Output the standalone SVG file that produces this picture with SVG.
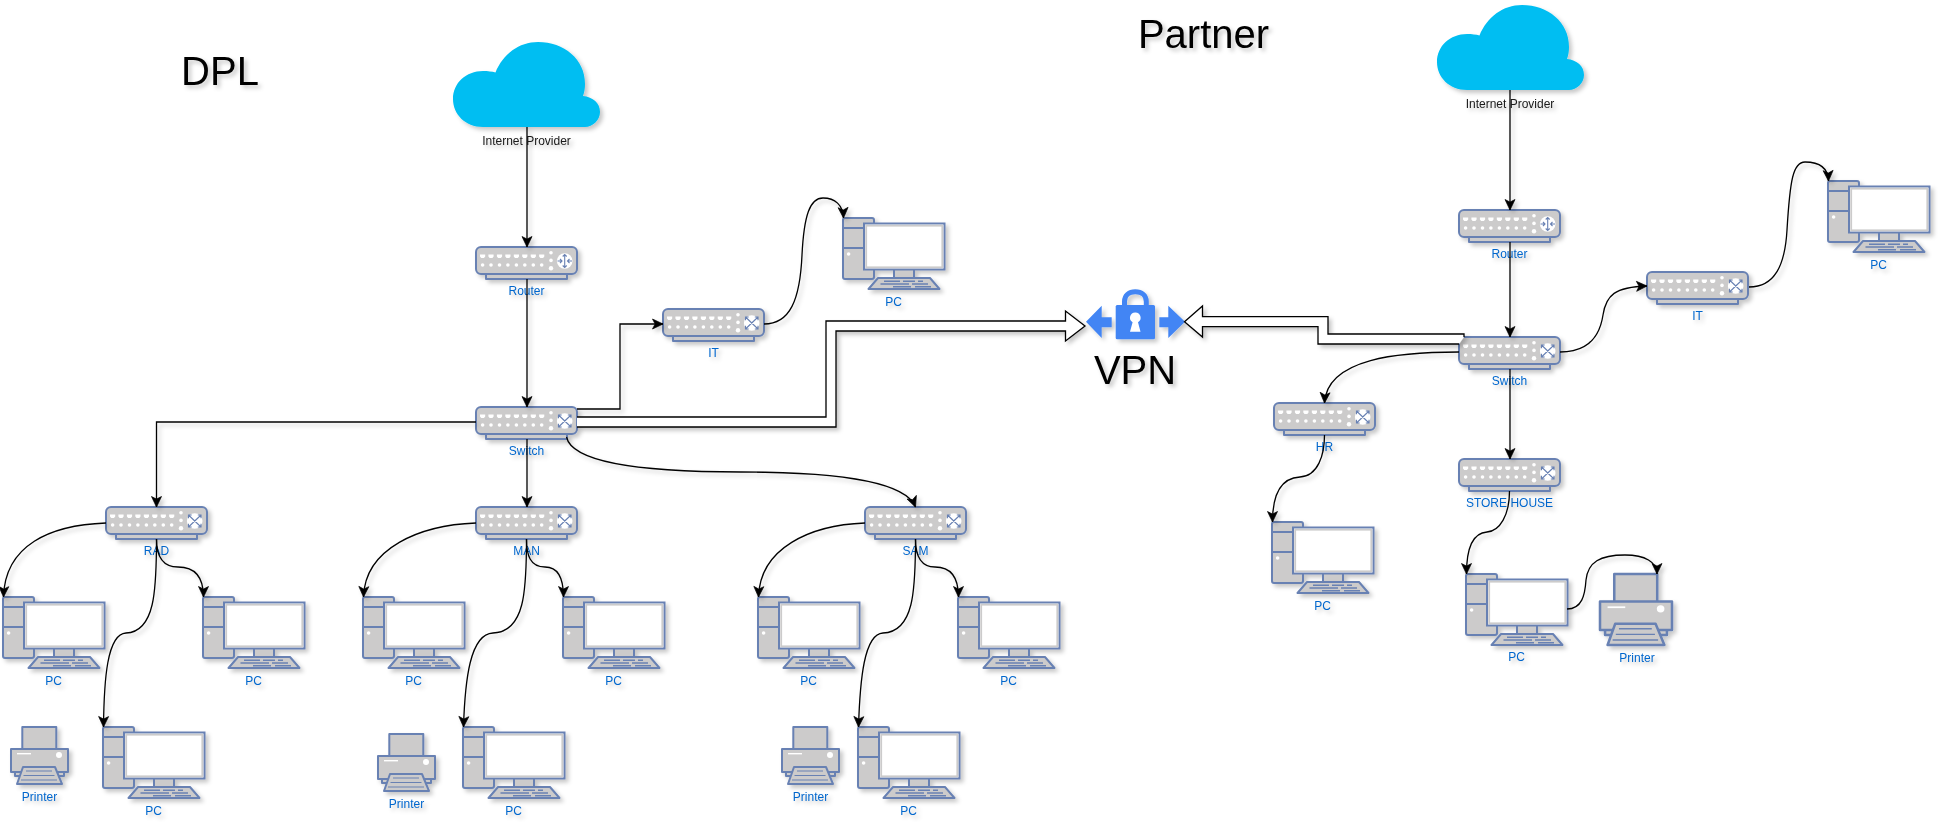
<svg xmlns="http://www.w3.org/2000/svg" xmlns:xlink="http://www.w3.org/1999/xlink" width="1939" height="830" viewBox="0 0 1939 830">
<style>
text{font-family:"Liberation Sans",Arial,sans-serif;text-anchor:middle}
.lbl{font-size:12px;fill:#0066CC}
.dark{font-size:12px;fill:#1a1a1a}
.big{font-size:40px;fill:#000}
.s{fill:#CCCBCB;stroke:#6881B3;stroke-width:2;stroke-linejoin:round}
.w{fill:#fff}
.k{fill:none;stroke:#6881B3;stroke-width:2}
.a{fill:none;stroke:#6881B3;stroke-width:1.1}
.c{fill:none;stroke:#000;stroke-width:1.3;marker-end:url(#head)}
.f{fill:#fff;stroke:#000;stroke-width:1.3}
.cloud{fill:#00BEF2}
.vpn{fill:#4285F4}
.sh{filter:url(#shadow)}
</style>
<defs>
<filter id="shadow" x="-5%" y="-5%" width="110%" height="110%" filterUnits="objectBoundingBox">
<feDropShadow dx="3" dy="3" stdDeviation="1.9" flood-color="#000" flood-opacity="0.22"/>
</filter>
<marker id="head" markerUnits="userSpaceOnUse" markerWidth="13" markerHeight="13" viewBox="0 0 13 13" refX="11.5" refY="6.5" orient="auto">
<path d="M1,1.5 L11.5,6.5 L1,11.5 L3.6,6.5 Z" fill="#000" stroke="#000" stroke-width=".7"/>
</marker>
<g id="chassis">
<rect class="s" x="10" y="27" width="81" height="5"/>
<rect class="s" x="0" y="0" width="101" height="27" rx="5"/>
<path class="w" d="M4,7.5h5.2v2l-1.2,1.4h-2.8l-1.2,-1.4zM12.4,7.5h5.2v2l-1.2,1.4h-2.8l-1.2,-1.4zM20.9,7.5h5.2v2l-1.2,1.4h-2.8l-1.2,-1.4zM29.3,7.5h5.2v2l-1.2,1.4h-2.8l-1.2,-1.4zM37.8,7.5h5.2v2l-1.2,1.4h-2.8l-1.2,-1.4zM46.2,7.5h5.2v2l-1.2,1.4h-2.8l-1.2,-1.4zM54.7,7.5h5.2v2l-1.2,1.4h-2.8l-1.2,-1.4zM63.1,7.5h5.2v2l-1.2,1.4h-2.8l-1.2,-1.4z"/>
<g class="w"><circle cx="6.6" cy="18" r="1.8"/><circle cx="15" cy="18" r="1.8"/><circle cx="23.5" cy="18" r="1.8"/><circle cx="31.9" cy="18" r="1.8"/><circle cx="40.4" cy="18" r="1.8"/><circle cx="48.8" cy="18" r="1.8"/><circle cx="57.3" cy="18" r="1.8"/><circle cx="65.7" cy="18" r="1.8"/><circle cx="75" cy="5.8" r="1.8"/><circle cx="75" cy="13.4" r="1.8"/><circle cx="75" cy="21.2" r="2.2"/><circle cx="88.7" cy="14" r="7.8"/></g>
</g>
<g id="switch">
<use href="#chassis"/>
<path class="a" d="M82.5,8 L95,20M95,8 L82.5,20M82.5,11.2V8H85.7M95,11.2V8H91.8M82.5,16.8V20H85.7M95,16.8V20H91.8"/>
</g>
<g id="router">
<use href="#chassis"/>
<path class="a" d="M88.7,7.5V20.5M86.7,9.5L88.7,7.5L90.7,9.5M86.7,18.5L88.7,20.5L90.7,18.5M81.5,14H86M84,12L86,14L84,16M96,14H91.5M93.5,12L91.5,14L93.5,16"/>
</g>
<g id="pc">
<rect class="s" x="0" y="0" width="31" height="61" rx="2"/>
<path class="k" d="M0,10H21M0,30H21"/>
<circle class="w" cx="5.6" cy="36" r="1.8"/>
<rect class="s" x="51" y="50" width="20" height="11"/>
<path class="s" d="M35,60H87L96.5,71H25.5Z"/>
<rect x="21" y="5.5" width="80.5" height="46" fill="#fff" stroke="#6881B3" stroke-width="2"/>
<rect x="23.2" y="7.7" width="76.1" height="41.6" fill="none" stroke="#CCCBCB" stroke-width="1.8"/>
<path d="M41,62.5H57V64H41ZM60,62.5H72V64H60ZM75,62.5H80V64H75ZM37.5,65.2H66V66.7H37.5ZM69,65.2H85V66.7H69ZM50,67.9H68V69.4H50ZM72,67.9H88V69.4H72Z" fill="#6881B3"/>
</g>
<g id="printer">
<rect class="s" x="11.3" y="0" width="34" height="23"/>
<rect class="s" x="4" y="44" width="49" height="5"/>
<rect class="s" x="0" y="22" width="57" height="23"/>
<path class="w" d="M6,26H20V27.4H6Z"/>
<circle class="w" cx="48" cy="28" r="3"/>
<path class="s" d="M12,40H44L51,57H6Z"/>
<path class="a" d="M15,44H41M12.5,48.5H43.5M10,53H46"/>
</g>
<path id="cloudshape" class="cloud" d="M30,85C12,85 0,72 0,57C0,41 13,29 30,29C35,29 39,29.5 42.5,30.5C50,12 66,0 85,0C111,0 132,17 132,42C132,46 131.5,50 130,54C140,55 147,61 147,70C147,78 140,85 132,85Z"/>
</defs>
<rect width="1939" height="830" fill="#fff"/>

<g id="titles" class="sh">
<text id="title-dpl" class="big" x="220" y="85">DPL</text>
<text id="title-partner" class="big" x="1203.5" y="48">Partner</text>
</g>

<g id="nodes" class="sh">
<g id="dpl-cloud"><use href="#cloudshape" x="453" y="42"/><text class="dark" x="526.5" y="145">Internet Provider</text></g>
<g id="dpl-router"><use href="#router" x="476" y="247"/><text class="lbl" x="526.5" y="295">Router</text></g>
<g id="dpl-switch"><use href="#switch" x="476" y="407"/><text class="lbl" x="526.5" y="455">Switch</text></g>
<g id="dpl-it"><use href="#switch" x="663" y="309"/><text class="lbl" x="713.5" y="357">IT</text></g>
<g id="dpl-it-pc"><use href="#pc" x="843" y="218"/><text class="lbl" x="893.5" y="306">PC</text></g>
<g id="rad"><use href="#switch" x="106" y="507"/><text class="lbl" x="156.5" y="555">RAD</text></g>
<g id="man"><use href="#switch" x="476" y="507"/><text class="lbl" x="526.5" y="555">MAN</text></g>
<g id="sam"><use href="#switch" x="865" y="507"/><text class="lbl" x="915.5" y="555">SAM</text></g>

<g id="rad-pc1"><use href="#pc" x="3" y="597"/><text class="lbl" x="53.5" y="685">PC</text></g>
<g id="rad-pc2"><use href="#pc" x="203" y="597"/><text class="lbl" x="253.5" y="685">PC</text></g>
<g id="rad-pc3"><use href="#pc" x="103" y="727"/><text class="lbl" x="153.5" y="815">PC</text></g>
<g id="rad-printer"><use href="#printer" x="11" y="727"/><text class="lbl" x="39.5" y="801">Printer</text></g>

<g id="man-pc1"><use href="#pc" x="363" y="597"/><text class="lbl" x="413.5" y="685">PC</text></g>
<g id="man-pc2"><use href="#pc" x="563" y="597"/><text class="lbl" x="613.5" y="685">PC</text></g>
<g id="man-pc3"><use href="#pc" x="463" y="727"/><text class="lbl" x="513.5" y="815">PC</text></g>
<g id="man-printer"><use href="#printer" x="378" y="734"/><text class="lbl" x="406.5" y="808">Printer</text></g>

<g id="sam-pc1"><use href="#pc" x="758" y="597"/><text class="lbl" x="808.5" y="685">PC</text></g>
<g id="sam-pc2"><use href="#pc" x="958" y="597"/><text class="lbl" x="1008.5" y="685">PC</text></g>
<g id="sam-pc3"><use href="#pc" x="858" y="727"/><text class="lbl" x="908.5" y="815">PC</text></g>
<g id="sam-printer"><use href="#printer" x="782" y="727"/><text class="lbl" x="810.5" y="801">Printer</text></g>

<g id="vpn">
<path class="vpn" d="M1086,321.7L1101.7,305.7V317.3H1111.7V327.3H1101.7V338Z"/>
<path class="vpn" d="M1185,321.7L1168.3,305.7V317.3H1159.3V327.3H1168.3V338Z"/>
<path d="M1124.5,306V301.5C1124.5,295.5 1129,291.8 1135.3,291.8C1141.6,291.8 1146.3,295.5 1146.3,301.5V306" fill="none" stroke="#4285F4" stroke-width="5"/>
<rect class="vpn" x="1115.7" y="305" width="39.3" height="34.3" rx="1.5"/>
<path class="w" d="M1135.3,312.5A5.2,5.2 0 0 1 1138,322.2L1140.5,331.7H1130L1132.6,322.2A5.2,5.2 0 0 1 1135.3,312.5Z"/>
<text class="big" x="1135" y="384">VPN</text>
</g>

<g id="partner-cloud"><use href="#cloudshape" x="1437" y="5"/><text class="dark" x="1510" y="108">Internet Provider</text></g>
<g id="partner-router"><use href="#router" x="1459" y="210"/><text class="lbl" x="1509.5" y="258">Router</text></g>
<g id="partner-switch"><use href="#switch" x="1459" y="337"/><text class="lbl" x="1509.5" y="385">Switch</text></g>
<g id="partner-it"><use href="#switch" x="1647" y="272"/><text class="lbl" x="1697.5" y="320">IT</text></g>
<g id="partner-it-pc"><use href="#pc" x="1828" y="181"/><text class="lbl" x="1878.5" y="269">PC</text></g>
<g id="hr"><use href="#switch" x="1274" y="403"/><text class="lbl" x="1324.5" y="451">HR</text></g>
<g id="hr-pc"><use href="#pc" x="1272" y="522"/><text class="lbl" x="1322.5" y="610">PC</text></g>
<g id="storehouse"><use href="#switch" x="1459" y="459"/><text class="lbl" x="1509.5" y="507">STORE HOUSE</text></g>
<g id="store-pc"><use href="#pc" x="1466" y="574"/><text class="lbl" x="1516.5" y="661">PC</text></g>
<g id="store-printer"><use href="#printer" transform="translate(1600 574) scale(1.263 1.245)"/><text class="lbl" x="1637" y="662">Printer</text></g>
</g>

<g id="connectors" class="sh">
<path class="c" d="M527,127V247"/>
<path class="c" d="M527,279V407"/>
<path class="c" d="M527,439V507"/>
<path class="c" d="M476,422H156.5V507"/>
<path class="c" d="M577,409H620V324H663"/>
<path class="c" d="M566.5,437C572,462 640,472 741,472C830,472 905,480 915.5,507"/>
<path class="c" d="M764,324C790,324 800,300 802,255C804,215 810,198 823,198C835,198 843,205 843.5,218"/>
<path class="c" d="M106,523C50,525 5,545 3.5,597"/>
<path class="c" d="M156.5,539C156.5,590 155,632 126,633C107,634 104,680 103.5,727"/>
<path class="c" d="M156.5,539C156.5,555 162,567 178,567C195,567 203.5,577 203.5,597"/>
<path class="c" d="M476,523C420,525 365,548 363.5,597"/>
<path class="c" d="M526.5,539C526.5,590 525,632 493,633C470,634 465,680 463.5,727"/>
<path class="c" d="M526.5,539C526.5,555 530,567 545,567C558,567 563.5,577 563.5,597"/>
<path class="c" d="M865,523C810,525 760,548 758.5,597"/>
<path class="c" d="M915.5,539C915.5,590 914,632 883,633C864,634 860,680 858.5,727"/>
<path class="c" d="M915.5,539C915.5,555 920,567 935,567C950,567 958.5,577 958.5,597"/>
<path class="f" d="M577,417H826V321H1065.5V311L1085,326L1065.5,341V331H836V427H577"/>
<path class="f" d="M1464,337V334H1328V316.7H1202.5V306L1184.5,321.7L1202.5,337V326.7H1318V344H1459"/>
<path class="c" d="M1510,90V210"/>
<path class="c" d="M1510,242V337"/>
<path class="c" d="M1510,369V459"/>
<path class="c" d="M1560,352C1590,352 1600,335 1603,315C1606,295 1615,287 1647,286"/>
<path class="c" d="M1749,287C1775,287 1785,265 1787,230C1790,180 1793,162 1805,162C1818,162 1828,167 1828.5,181"/>
<path class="c" d="M1459,352C1400,352 1327,358 1324.5,403"/>
<path class="c" d="M1324.5,435C1324.5,455 1318,476 1300,477C1280,478 1272.5,495 1272.5,522"/>
<path class="c" d="M1509.5,491C1509.5,515 1500,531 1487,532C1472,533 1466.5,550 1466.5,574"/>
<path class="c" d="M1567,609C1582,609 1585,595 1586,580C1588,562 1600,555 1625,555C1645,555 1657,562 1657,574"/>
</g>
</svg>
